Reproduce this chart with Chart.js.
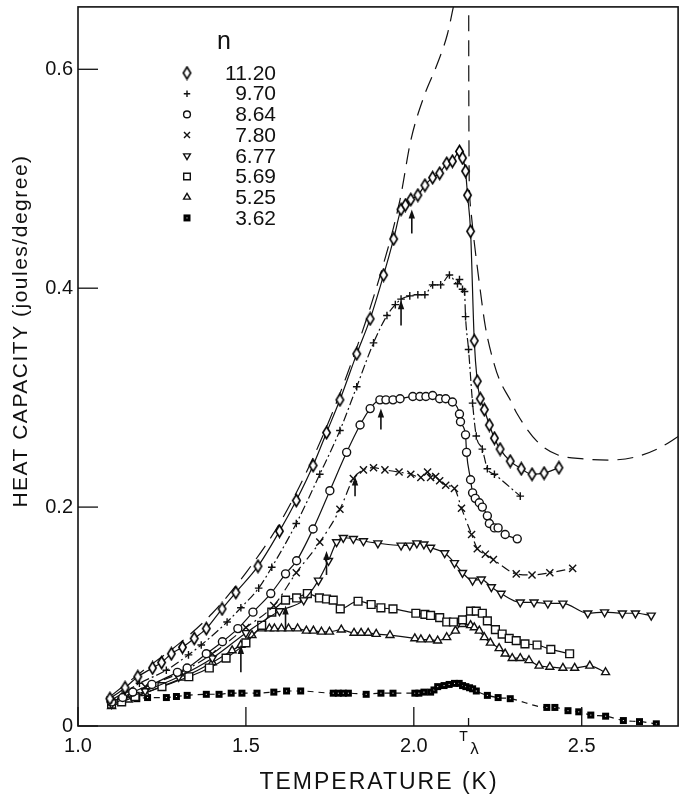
<!DOCTYPE html>
<html>
<head>
<meta charset="utf-8">
<script src="https://cdn.jsdelivr.net/npm/chart.js@4.4.1/dist/chart.umd.min.js"></script>
<style>
  html, body { margin: 0; padding: 0; background: #fff; }
</style>
</head>
<body>
<canvas id="chart" width="685" height="803"></canvas>
<script>
// film coverages (legend "n")
const coverages = ['11.20', '9.70', '8.64', '7.80', '6.77', '5.69', '5.25', '3.62'];

// ---- series data: temperature (K) and heat capacity (J/deg) ----
const tempN1120 = [1.095,1.14,1.178,1.222,1.249,1.278,1.311,1.346,1.382,1.429,1.47,1.536,1.60,1.65,1.70,1.74,1.78,1.83,1.87,1.91,1.94,1.962,1.975,1.991,2.012,2.033,2.056,2.077,2.098,2.115,2.136,2.145,2.154,2.160,2.169,2.180,2.189,2.198,2.21,2.225,2.24,2.257,2.287,2.32,2.352,2.388,2.432];
const heatN1120 = [0.025,0.035,0.045,0.053,0.058,0.066,0.072,0.080,0.089,0.107,0.122,0.146,0.178,0.206,0.238,0.268,0.298,0.340,0.372,0.412,0.445,0.472,0.476,0.481,0.485,0.494,0.501,0.505,0.514,0.516,0.525,0.519,0.507,0.485,0.452,0.352,0.315,0.299,0.289,0.275,0.263,0.253,0.242,0.235,0.230,0.231,0.236];

const tempN970 = [1.10,1.14,1.183,1.263,1.329,1.367,1.444,1.485,1.538,1.577,1.65,1.72,1.78,1.83,1.88,1.92,1.945,1.962,1.988,2.012,2.033,2.056,2.080,2.106,2.130,2.136,2.145,2.151,2.154,2.163,2.175,2.186,2.204,2.219,2.240,2.317];
const heatN970 = [0.024,0.031,0.039,0.051,0.065,0.074,0.095,0.108,0.126,0.145,0.185,0.23,0.27,0.31,0.35,0.375,0.385,0.390,0.393,0.394,0.394,0.403,0.403,0.412,0.404,0.408,0.399,0.397,0.374,0.344,0.295,0.265,0.253,0.235,0.230,0.210];

const tempN864 = [1.10,1.133,1.163,1.22,1.296,1.325,1.382,1.43,1.476,1.521,1.574,1.618,1.651,1.70,1.75,1.80,1.84,1.87,1.899,1.917,1.938,1.959,1.997,2.018,2.036,2.056,2.077,2.095,2.115,2.136,2.139,2.154,2.157,2.169,2.175,2.183,2.195,2.204,2.219,2.225,2.240,2.251,2.272,2.308];
const heatN864 = [0.022,0.026,0.031,0.038,0.049,0.053,0.066,0.077,0.089,0.104,0.121,0.139,0.151,0.18,0.215,0.25,0.275,0.29,0.298,0.298,0.298,0.299,0.301,0.301,0.301,0.302,0.299,0.299,0.296,0.285,0.278,0.266,0.250,0.225,0.213,0.208,0.204,0.200,0.192,0.185,0.181,0.181,0.175,0.171];

const tempN780 = [1.10,1.2,1.3,1.4,1.5,1.583,1.65,1.72,1.78,1.82,1.85,1.88,1.914,1.956,1.991,2.021,2.041,2.050,2.065,2.077,2.095,2.121,2.142,2.172,2.189,2.213,2.237,2.305,2.352,2.405,2.473];
const heatN780 = [0.022,0.036,0.048,0.066,0.09,0.11,0.14,0.168,0.198,0.226,0.234,0.236,0.234,0.232,0.230,0.227,0.232,0.227,0.228,0.224,0.220,0.217,0.199,0.175,0.162,0.157,0.152,0.139,0.138,0.140,0.144];

const tempN677 = [1.10,1.2,1.3,1.4,1.5,1.6,1.672,1.716,1.746,1.77,1.79,1.82,1.85,1.893,1.962,1.988,2.009,2.030,2.050,2.092,2.121,2.145,2.175,2.201,2.231,2.260,2.317,2.358,2.399,2.444,2.518,2.568,2.621,2.660,2.707];
const heatN677 = [0.02,0.032,0.045,0.062,0.085,0.105,0.115,0.133,0.151,0.168,0.172,0.171,0.169,0.167,0.165,0.165,0.167,0.166,0.163,0.158,0.149,0.140,0.133,0.134,0.127,0.121,0.113,0.113,0.112,0.112,0.103,0.104,0.103,0.103,0.101];

const tempN569 = [1.10,1.13,1.17,1.25,1.33,1.391,1.441,1.50,1.547,1.577,1.618,1.651,1.683,1.719,1.740,1.760,1.781,1.834,1.873,1.902,1.938,2.006,2.033,2.050,2.077,2.098,2.118,2.145,2.169,2.186,2.204,2.219,2.243,2.263,2.284,2.305,2.331,2.367,2.408,2.464];
const heatN569 = [0.020,0.022,0.027,0.036,0.045,0.053,0.062,0.076,0.092,0.104,0.115,0.117,0.121,0.117,0.116,0.115,0.107,0.114,0.111,0.108,0.107,0.103,0.102,0.101,0.099,0.095,0.095,0.097,0.105,0.105,0.103,0.096,0.088,0.084,0.080,0.078,0.075,0.074,0.070,0.066];

const tempN525 = [1.10,1.15,1.2,1.311,1.40,1.459,1.485,1.518,1.547,1.57,1.585,1.606,1.627,1.654,1.680,1.701,1.725,1.749,1.784,1.822,1.843,1.864,1.888,1.929,2.003,2.021,2.047,2.071,2.098,2.124,2.145,2.169,2.180,2.195,2.210,2.228,2.254,2.272,2.293,2.317,2.343,2.373,2.405,2.444,2.479,2.524,2.571];
const heatN525 = [0.018,0.024,0.03,0.044,0.058,0.069,0.074,0.083,0.089,0.089,0.089,0.089,0.089,0.089,0.087,0.087,0.086,0.086,0.088,0.085,0.085,0.085,0.084,0.083,0.080,0.079,0.079,0.078,0.081,0.087,0.093,0.092,0.090,0.087,0.081,0.076,0.071,0.066,0.062,0.062,0.060,0.055,0.054,0.053,0.053,0.055,0.049];

const tempN362 = [1.095,1.135,1.175,1.207,1.263,1.293,1.325,1.382,1.420,1.456,1.488,1.533,1.583,1.621,1.663,1.76,1.775,1.79,1.805,1.858,1.902,1.938,2.003,2.015,2.03,2.05,2.06,2.071,2.09,2.105,2.121,2.135,2.145,2.155,2.166,2.175,2.186,2.219,2.251,2.287,2.396,2.420,2.459,2.491,2.527,2.571,2.624,2.672,2.722];
const heatN362 = [0.024,0.025,0.025,0.026,0.026,0.027,0.028,0.029,0.029,0.030,0.030,0.030,0.031,0.032,0.032,0.030,0.030,0.030,0.030,0.029,0.030,0.030,0.030,0.030,0.031,0.031,0.033,0.036,0.037,0.038,0.039,0.039,0.037,0.036,0.035,0.034,0.032,0.028,0.026,0.025,0.017,0.017,0.014,0.013,0.010,0.009,0.005,0.004,0.002];

// bulk helium curve (dashed)
const tempBulk = [1.10,1.2,1.3,1.4,1.5,1.6,1.7,1.8,1.9,1.959,1.991,2.03,2.07,2.10,2.12,2.14,2.1625,2.1632,2.1636,2.166,2.172,2.180,2.195,2.213,2.240,2.257,2.287,2.308,2.367,2.426,2.506,2.583,2.663,2.731,2.79];
const heatBulk = [0.028,0.052,0.075,0.103,0.140,0.185,0.245,0.320,0.412,0.481,0.535,0.575,0.605,0.632,0.660,0.70,1.0,1.0,0.60,0.487,0.465,0.442,0.405,0.365,0.330,0.315,0.298,0.285,0.260,0.248,0.244,0.243,0.246,0.254,0.265];

// onset arrows: temperature, tip and tail heat capacity
const arrowTemp = [1.994, 1.962, 1.902, 1.825, 1.740, 1.618, 1.485];
const arrowTop = [0.472, 0.389, 0.290, 0.228, 0.160, 0.110, 0.074];
const arrowBottom = [0.450, 0.366, 0.271, 0.210, 0.138, 0.087, 0.049];

// axes
const xTicks = [1.0, 1.5, 2.0, 2.5];
const yTicks = [0, 0.2, 0.4, 0.6];
const lambdaTemp = 2.163;

const INK = '#111';
const FONT = '"Liberation Sans", Arial, sans-serif';

function pts(t, c) { return t.map((v, i) => ({ x: v, y: c[i] })); }

// custom markers
const diamond = document.createElement('canvas');
diamond.width = 11; diamond.height = 15;
(function () {
  const g = diamond.getContext('2d');
  g.fillStyle = '#fff'; g.strokeStyle = '#000'; g.lineWidth = 1.6;
  g.beginPath(); g.moveTo(5.5, 1.5); g.lineTo(9.2, 7.5); g.lineTo(5.5, 13.5); g.lineTo(1.8, 7.5); g.closePath();
  g.fill(); g.stroke();
})();
const starMark = document.createElement('canvas');
starMark.width = 9; starMark.height = 9;
(function () {
  const g = starMark.getContext('2d');
  g.fillStyle = '#000'; g.fillRect(1, 1, 7, 7);
  g.fillStyle = '#fff'; g.fillRect(4, 4, 1, 1);
})();

const styles = [
  { pointStyle: diamond, radius: 5, dash: [] },
  { pointStyle: 'cross', radius: 3.8, dash: [9, 3, 2, 3] },
  { pointStyle: 'circle', radius: 4, dash: [] },
  { pointStyle: 'crossRot', radius: 5, dash: [9, 4, 2, 4] },
  { pointStyle: 'triangle', radius: 4.6, rotation: 180, dash: [] },
  { pointStyle: 'rect', radius: 5.5, dash: [] },
  { pointStyle: 'triangle', radius: 4.6, dash: [] },
  { pointStyle: starMark, radius: 4.5, dash: [6, 5] }
];
const seriesData = [
  pts(tempN1120, heatN1120), pts(tempN970, heatN970), pts(tempN864, heatN864), pts(tempN780, heatN780),
  pts(tempN677, heatN677), pts(tempN569, heatN569), pts(tempN525, heatN525), pts(tempN362, heatN362)
];

const datasets = seriesData.map((d, i) => ({
  label: coverages[i],
  data: d,
  showLine: true,
  borderColor: INK,
  backgroundColor: '#fff',
  borderWidth: 1.2,
  borderDash: styles[i].dash,
  cubicInterpolationMode: 'monotone',
  pointStyle: styles[i].pointStyle,
  pointRadius: styles[i].radius,
  pointRotation: styles[i].rotation || 0,
  pointBorderWidth: 1.4,
  pointBorderColor: INK,
  pointBackgroundColor: '#fff'
}));
datasets.push({
  label: 'bulk',
  data: pts(tempBulk, heatBulk),
  showLine: true,
  borderColor: INK,
  borderWidth: 1.2,
  borderDash: [16, 9],
  cubicInterpolationMode: 'monotone',
  pointRadius: 0
});

const decor = {
  id: 'decor',
  afterDraw(chart) {
    const { ctx, chartArea: a, scales: { x, y } } = chart;
    ctx.save();
    ctx.strokeStyle = INK; ctx.fillStyle = INK;
    // frame
    ctx.lineWidth = 1.6;
    ctx.strokeRect(a.left, a.top, a.right - a.left, a.bottom - a.top);
    // inward ticks
    ctx.lineWidth = 1.3;
    xTicks.forEach(v => {
      const px = x.getPixelForValue(v);
      ctx.beginPath(); ctx.moveTo(px, a.bottom); ctx.lineTo(px, a.bottom - 19); ctx.stroke();
    });
    yTicks.forEach(v => {
      const py = y.getPixelForValue(v);
      ctx.beginPath(); ctx.moveTo(a.left, py); ctx.lineTo(a.left + 20, py); ctx.stroke();
    });
    const lx = x.getPixelForValue(lambdaTemp);
    ctx.beginPath(); ctx.moveTo(lx, a.bottom); ctx.lineTo(lx, a.bottom - 8); ctx.stroke();
    ctx.textAlign = 'center'; ctx.textBaseline = 'middle';
    ctx.font = '14px ' + FONT; ctx.fillText('T', lx - 5, a.bottom + 11);
    ctx.font = '17px ' + FONT; ctx.fillText('λ', lx + 6, a.bottom + 23);
    // arrows
    ctx.lineWidth = 1.6;
    arrowTemp.forEach((t, i) => {
      const px = x.getPixelForValue(t), top = y.getPixelForValue(arrowTop[i]), bot = y.getPixelForValue(arrowBottom[i]);
      ctx.beginPath(); ctx.moveTo(px, bot); ctx.lineTo(px, top + 5); ctx.stroke();
      ctx.beginPath(); ctx.moveTo(px, top); ctx.lineTo(px - 3.2, top + 9); ctx.lineTo(px + 3.2, top + 9); ctx.closePath(); ctx.fill();
    });
    // legend
    ctx.font = '25px ' + FONT; ctx.textAlign = 'center';
    ctx.fillText('n', 224, 42);
    ctx.font = '21px ' + FONT; ctx.textAlign = 'right';
    coverages.forEach((c, i) => {
      const yy = 73 + i * 20.7;
      ctx.fillStyle = INK; ctx.fillText(c, 276, yy + 1);
      ctx.fillStyle = '#fff'; ctx.strokeStyle = INK; ctx.lineWidth = 1.4;
      Chart.helpers.drawPoint(ctx, { pointStyle: styles[i].pointStyle, radius: styles[i].radius * 0.85, rotation: styles[i].rotation || 0, borderWidth: 1.4 }, 187, yy);
    });
    // axis titles
    ctx.fillStyle = INK; ctx.textAlign = 'center';
    ctx.font = '23px ' + FONT;
    ctx.letterSpacing = '2px';
    ctx.fillText('TEMPERATURE (K)', 379, 783);
    ctx.save();
    ctx.translate(21, 331); ctx.rotate(-Math.PI / 2);
    ctx.font = '21px ' + FONT;
    ctx.letterSpacing = '1.5px';
    ctx.fillText('HEAT CAPACITY (joules/degree)', 0, 0);
    ctx.restore();
    ctx.restore();
  }
};

new Chart(document.getElementById('chart'), {
  type: 'scatter',
  data: { datasets },
  options: {
    responsive: false,
    animation: false,
    layout: { padding: { top: 3, right: 3, left: 0, bottom: 0 } },
    plugins: { legend: { display: false }, tooltip: { enabled: false } },
    scales: {
      x: {
        type: 'linear', min: 1.0, max: 2.787,
        afterBuildTicks: s => { s.ticks = xTicks.map(v => ({ value: v })); },
        afterFit: s => { s.height = 77; s.paddingLeft = 0; s.paddingRight = 0; },
        grid: { display: false, drawTicks: false },
        border: { display: false },
        ticks: { callback: v => v.toFixed(1), color: INK, padding: 8, maxRotation: 0, autoSkip: false, font: { family: FONT, size: 20 } }
      },
      y: {
        type: 'linear', min: 0, max: 0.657,
        afterBuildTicks: s => { s.ticks = yTicks.map(v => ({ value: v })); },
        afterFit: s => { s.width = 78; s.paddingTop = 0; s.paddingBottom = 0; },
        grid: { display: false, drawTicks: false },
        border: { display: false },
        ticks: { callback: v => (v === 0 ? '0' : v.toFixed(1)), color: INK, padding: 5, font: { family: FONT, size: 20 } }
      }
    }
  },
  plugins: [decor]
});
</script>
</body>
</html>
